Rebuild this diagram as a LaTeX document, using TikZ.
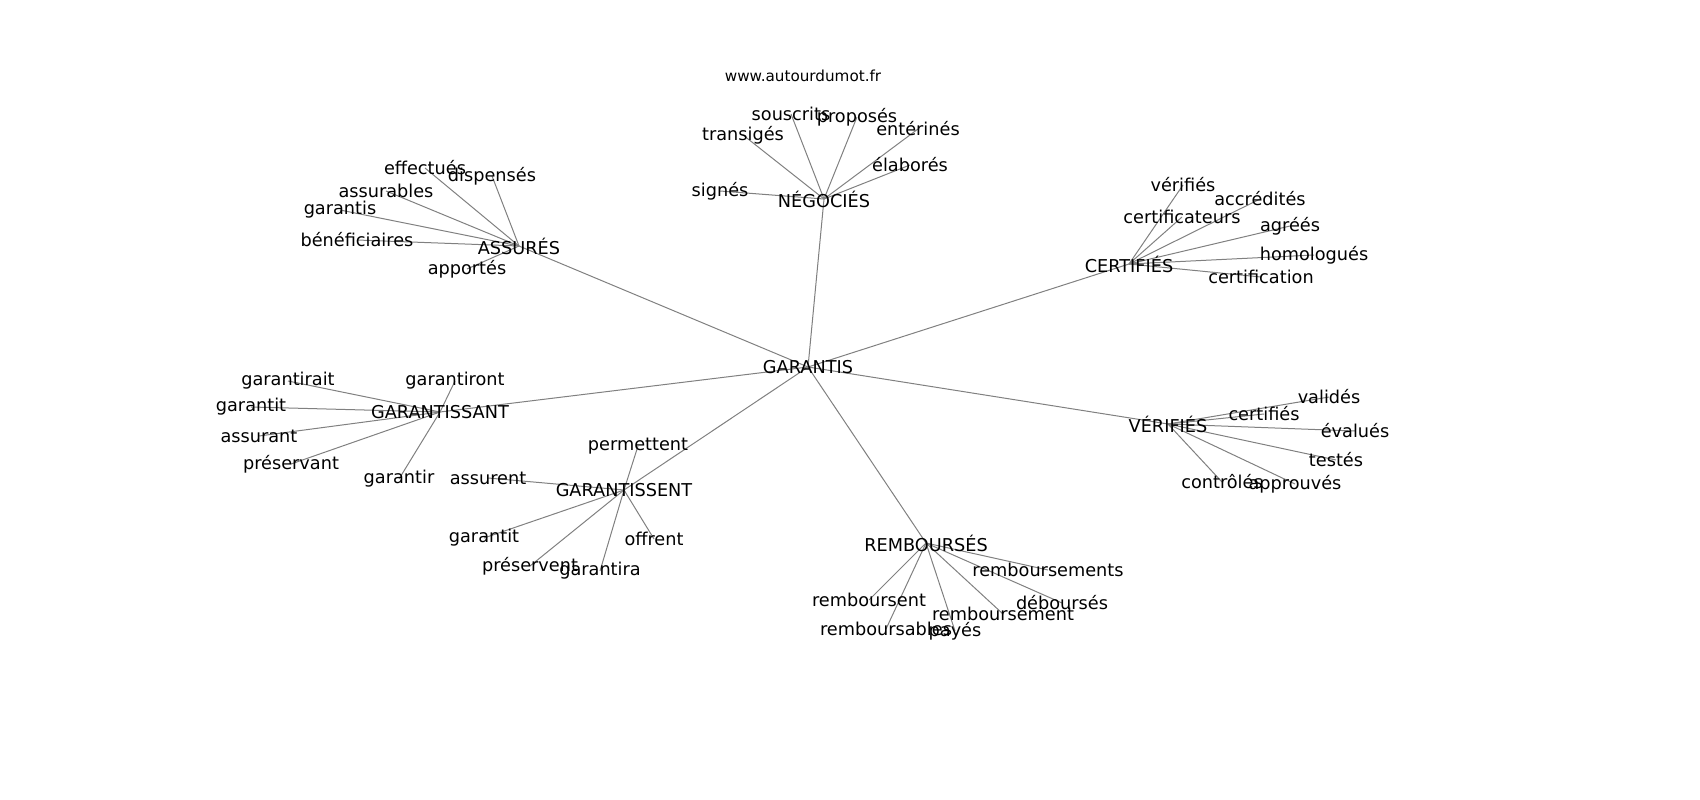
\documentclass[tikz,border=0pt]{standalone}
\usepackage{fontspec}
\setmainfont{DejaVu Sans}
\usetikzlibrary{backgrounds}
\begin{document}
\begin{tikzpicture}[x=1pt,y=-1pt,
	word/.style={inner sep=0pt, font=\fontsize{17.7}{21}\selectfont},
	site/.style={inner sep=0pt, font=\fontsize{15.2}{18}\selectfont},
	link/.style={draw=gray, line width=1pt}]
	\useasboundingbox (0,0) rectangle (1700,800);
	
	%Title
	\node[site]	(site)	at (803,76) {www.autourdumot.fr};
	
	%Nodes
	\node[word]	(gar)	at (808,367) {GARANTIS};
	\node[word]	(neg)	at (824,199) {NÉGOCIÉS};
	\node[word]	(ass)	at (519,246) {ASSURÉS};
	\node[word]	(cer)	at (1129,264) {CERTIFIÉS};
	\node[word]	(gsant)	at (440,412) {GARANTISSANT};
	\node[word]	(gsent)	at (624,490) {GARANTISSENT};
	\node[word]	(ver)	at (1168,424) {VÉRIFIÉS};
	\node[word]	(rem)	at (926,543) {REMBOURSÉS};
	
	%Words round NÉGOCIÉS
	\node[word]	(souscrits)	at (791,114) {souscrits};
	\node[word]	(proposes)	at (857,117) {proposés};
	\node[word]	(transiges)	at (743,135) {transigés};
	\node[word]	(enterines)	at (918,129) {entérinés};
	\node[word]	(elabores)	at (910,165) {élaborés};
	\node[word]	(signes)	at (720,191) {signés};
	
	%Words round ASSURÉS
	\node[word]	(effectues)	at (425,168) {effectués};
	\node[word]	(dispenses)	at (492,176) {dispensés};
	\node[word]	(assurables)	at (386,191) {assurables};
	\node[word]	(garantis)	at (340,210) {garantis};
	\node[word]	(beneficiaires)	at (357,240) {bénéficiaires};
	\node[word]	(apportes)	at (467,269) {apportés};
	
	%Words round CERTIFIÉS
	\node[word]	(verifies)	at (1183,185) {vérifiés};
	\node[word]	(accredites)	at (1260,199) {accrédités};
	\node[word]	(certificateurs)	at (1182,217) {certificateurs};
	\node[word]	(agrees)	at (1290,226) {agréés};
	\node[word]	(homologues)	at (1314,255) {homologués};
	\node[word]	(certification)	at (1261,277) {certification};
	
	%Words round GARANTISSANT
	\node[word]	(garantirait)	at (288,381) {garantirait};
	\node[word]	(garantiront)	at (455,381) {garantiront};
	\node[word]	(garantitA)	at (251,407) {garantit};
	\node[word]	(assurant)	at (259,436) {assurant};
	\node[word]	(preservant)	at (291,464) {préservant};
	\node[word]	(garantir)	at (399,479) {garantir};
	
	%Words round GARANTISSENT
	\node[word]	(permettent)	at (638,446) {permettent};
	\node[word]	(assurent)	at (488,478) {assurent};
	\node[word]	(garantitB)	at (484,538) {garantit};
	\node[word]	(offrent)	at (654,539) {offrent};
	\node[word]	(preservent)	at (530,566) {préservent};
	\node[word]	(garantira)	at (600,571) {garantira};
	
	%Words round VÉRIFIÉS
	\node[word]	(valides)	at (1329,397) {validés};
	\node[word]	(certifies)	at (1264,414) {certifiés};
	\node[word]	(evalues)	at (1355,431) {évalués};
	\node[word]	(testes)	at (1336,460) {testés};
	\node[word]	(controles)	at (1222,482) {contrôlés};
	\node[word]	(approuves)	at (1295,484) {approuvés};
	
	%Words round REMBOURSÉS
	\node[word]	(remboursements)	at (1048,570) {remboursements};
	\node[word]	(remboursent)	at (869,600) {remboursent};
	\node[word]	(debourses)	at (1062,603) {déboursés};
	\node[word]	(remboursement)	at (1003,614) {remboursement};
	\node[word]	(remboursables)	at (886,629) {remboursables};
	\node[word]	(payes)	at (955,631) {payés};
	
	%Lines
	\begin{scope}[on background layer]
	\foreach \hub in {neg,ass,cer,gsant,gsent,ver,rem}
		\draw[link] (gar.center) -- (\hub.center);
	\foreach \leaf in {souscrits,proposes,transiges,enterines,elabores,signes}
		\draw[link] (neg.center) -- (\leaf.center);
	\foreach \leaf in {effectues,dispenses,assurables,garantis,beneficiaires,apportes}
		\draw[link] (ass.center) -- (\leaf.center);
	\foreach \leaf in {verifies,accredites,certificateurs,agrees,homologues,certification}
		\draw[link] (cer.center) -- (\leaf.center);
	\foreach \leaf in {garantirait,garantiront,garantitA,assurant,preservant,garantir}
		\draw[link] (gsant.center) -- (\leaf.center);
	\foreach \leaf in {permettent,assurent,garantitB,offrent,preservent,garantira}
		\draw[link] (gsent.center) -- (\leaf.center);
	\foreach \leaf in {valides,certifies,evalues,testes,controles,approuves}
		\draw[link] (ver.center) -- (\leaf.center);
	\foreach \leaf in {remboursements,remboursent,debourses,remboursement,remboursables,payes}
		\draw[link] (rem.center) -- (\leaf.center);
	\end{scope}
\end{tikzpicture}
\end{document}
